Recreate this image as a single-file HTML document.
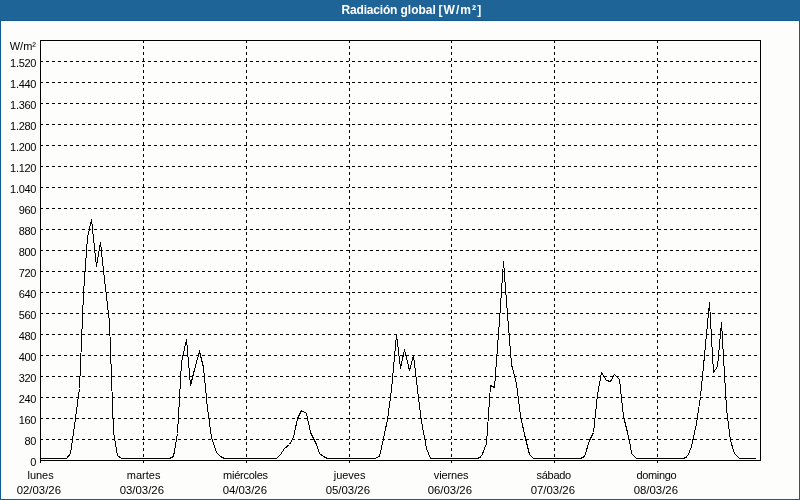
<!DOCTYPE html>
<html><head><meta charset="utf-8"><title>Radiación global</title>
<style>
html,body{margin:0;padding:0;background:#fdfdfd;}
body{width:800px;height:500px;overflow:hidden;position:relative;font-family:"Liberation Sans","DejaVu Sans",sans-serif;}
#bar{position:absolute;left:0;top:0;width:800px;height:20px;background:#1f6497;}
#frame{position:absolute;left:0;top:20px;width:798px;height:478px;border:1px solid #0f5b92;background:#fdfefc;}
#title{position:absolute;left:341.6px;top:0;width:300px;height:20px;line-height:20px;text-align:left;white-space:nowrap;color:#fff;font-weight:bold;font-size:12px;}
svg{position:absolute;left:0;top:0;}
svg text{font-family:"Liberation Sans","DejaVu Sans",sans-serif;font-size:11px;fill:#000;}
</style></head><body>
<div id="bar"></div><div id="frame"></div>
<div id="title"><span id="tt"><span style="letter-spacing:-0.2px">Radiación</span> <span>global</span><span style="letter-spacing:-0.6px"> </span><span style="letter-spacing:1.05px">[W/m²]</span></span></div>
<svg width="800" height="500" viewBox="0 0 800 500">
<g stroke="#000" stroke-width="1" stroke-dasharray="3 3" shape-rendering="crispEdges"><line x1="40" x2="760" y1="439.5" y2="439.5"/><line x1="40" x2="760" y1="418.5" y2="418.5"/><line x1="40" x2="760" y1="397.5" y2="397.5"/><line x1="40" x2="760" y1="376.5" y2="376.5"/><line x1="40" x2="760" y1="355.5" y2="355.5"/><line x1="40" x2="760" y1="334.5" y2="334.5"/><line x1="40" x2="760" y1="313.5" y2="313.5"/><line x1="40" x2="760" y1="292.5" y2="292.5"/><line x1="40" x2="760" y1="271.5" y2="271.5"/><line x1="40" x2="760" y1="250.5" y2="250.5"/><line x1="40" x2="760" y1="229.5" y2="229.5"/><line x1="40" x2="760" y1="208.5" y2="208.5"/><line x1="40" x2="760" y1="187.5" y2="187.5"/><line x1="40" x2="760" y1="166.5" y2="166.5"/><line x1="40" x2="760" y1="145.5" y2="145.5"/><line x1="40" x2="760" y1="124.5" y2="124.5"/><line x1="40" x2="760" y1="103.5" y2="103.5"/><line x1="40" x2="760" y1="82.5" y2="82.5"/><line x1="40" x2="760" y1="61.5" y2="61.5"/><line x1="143.5" x2="143.5" y1="40" y2="460"/><line x1="246.5" x2="246.5" y1="40" y2="460"/><line x1="349.5" x2="349.5" y1="40" y2="460"/><line x1="451.5" x2="451.5" y1="40" y2="460"/><line x1="554.5" x2="554.5" y1="40" y2="460"/><line x1="657.5" x2="657.5" y1="40" y2="460"/></g>
<rect x="40.5" y="40.5" width="720" height="420" fill="none" stroke="#000" stroke-width="1" shape-rendering="crispEdges"/>
<g stroke="#000" stroke-width="1" shape-rendering="crispEdges"><line x1="40.5" x2="40.5" y1="461" y2="463"/><line x1="143.5" x2="143.5" y1="461" y2="463"/><line x1="246.5" x2="246.5" y1="461" y2="463"/><line x1="349.5" x2="349.5" y1="461" y2="463"/><line x1="451.5" x2="451.5" y1="461" y2="463"/><line x1="554.5" x2="554.5" y1="461" y2="463"/><line x1="657.5" x2="657.5" y1="461" y2="463"/></g>
<g><text x="36.1" y="466" text-anchor="end" style="letter-spacing:-0.3px">0</text><text x="36.1" y="445" text-anchor="end" style="letter-spacing:-0.3px">80</text><text x="36.1" y="424" text-anchor="end" style="letter-spacing:-0.3px">160</text><text x="36.1" y="403" text-anchor="end" style="letter-spacing:-0.3px">240</text><text x="36.1" y="382" text-anchor="end" style="letter-spacing:-0.3px">320</text><text x="36.1" y="361" text-anchor="end" style="letter-spacing:-0.3px">400</text><text x="36.1" y="340" text-anchor="end" style="letter-spacing:-0.3px">480</text><text x="36.1" y="319" text-anchor="end" style="letter-spacing:-0.3px">560</text><text x="36.1" y="298" text-anchor="end" style="letter-spacing:-0.3px">640</text><text x="36.1" y="277" text-anchor="end" style="letter-spacing:-0.3px">720</text><text x="36.1" y="256" text-anchor="end" style="letter-spacing:-0.3px">800</text><text x="36.1" y="235" text-anchor="end" style="letter-spacing:-0.3px">880</text><text x="36.1" y="214" text-anchor="end" style="letter-spacing:-0.3px">960</text><text x="36.1" y="193" text-anchor="end" style="letter-spacing:-0.3px">1.040</text><text x="36.1" y="172" text-anchor="end" style="letter-spacing:-0.3px">1.120</text><text x="36.1" y="151" text-anchor="end" style="letter-spacing:-0.3px">1.200</text><text x="36.1" y="130" text-anchor="end" style="letter-spacing:-0.3px">1.280</text><text x="36.1" y="109" text-anchor="end" style="letter-spacing:-0.3px">1.360</text><text x="36.1" y="88" text-anchor="end" style="letter-spacing:-0.3px">1.440</text><text x="36.1" y="67" text-anchor="end" style="letter-spacing:-0.3px">1.520</text><text x="36" y="50" text-anchor="end">W/m²</text></g>
<g><text x="40.6" y="479" text-anchor="middle">lunes</text><text x="38.8" y="494" text-anchor="middle" style="font-size:11.4px">02/03/26</text><text x="143.6" y="479" text-anchor="middle">martes</text><text x="141.8" y="494" text-anchor="middle" style="font-size:11.4px">03/03/26</text><text x="245.47" y="479" text-anchor="middle" style="letter-spacing:-0.25px">miércoles</text><text x="244.8" y="494" text-anchor="middle" style="font-size:11.4px">04/03/26</text><text x="349.6" y="479" text-anchor="middle">jueves</text><text x="347.8" y="494" text-anchor="middle" style="font-size:11.4px">05/03/26</text><text x="451.08" y="479" text-anchor="middle" style="letter-spacing:-0.15px">viernes</text><text x="449.8" y="494" text-anchor="middle" style="font-size:11.4px">06/03/26</text><text x="553.7" y="479" text-anchor="middle" style="letter-spacing:-0.3px">sábado</text><text x="552.8" y="494" text-anchor="middle" style="font-size:11.4px">07/03/26</text><text x="656.38" y="479" text-anchor="middle" style="letter-spacing:-0.35px">domingo</text><text x="655.8" y="494" text-anchor="middle" style="font-size:11.4px">08/03/26</text></g>
<polyline fill="none" stroke="#000" stroke-width="1" stroke-linecap="square" stroke-linejoin="miter" shape-rendering="crispEdges" points="40.5,458.5 44.5,458.5 49.5,458.5 53.5,458.5 57.5,458.5 61.5,458.5 66.5,458.5 70.5,453.5 74.5,425.5 79.5,388.5 83.5,293.5 87.5,237.5 91.5,219.5 96.5,266.5 100.5,242.5 104.5,279.5 109.5,322.5 113.5,432.5 117.5,455.5 121.5,458.5 126.5,458.5 130.5,458.5 134.5,458.5 139.5,458.5 143.5,458.5 147.5,458.5 151.5,458.5 156.5,458.5 160.5,458.5 164.5,458.5 169.5,458.5 173.5,456.5 177.5,433.5 181.5,362.5 186.5,339.5 190.5,385.5 194.5,369.5 199.5,351.5 203.5,367.5 207.5,408.5 211.5,437.5 216.5,452.5 220.5,456.5 224.5,458.5 229.5,458.5 233.5,458.5 237.5,458.5 241.5,458.5 246.5,458.5 250.5,458.5 254.5,458.5 259.5,458.5 263.5,458.5 267.5,458.5 271.5,458.5 276.5,458.5 280.5,454.5 284.5,448.5 289.5,444.5 293.5,437.5 297.5,418.5 301.5,410.5 306.5,413.5 310.5,432.5 314.5,440.5 316.5,444.5 319.5,453.5 323.5,456.5 327.5,458.5 331.5,458.5 336.5,458.5 340.5,458.5 344.5,458.5 349.5,458.5 353.5,458.5 357.5,458.5 361.5,458.5 366.5,458.5 370.5,458.5 374.5,458.5 379.5,456.5 383.5,438.5 387.5,419.5 391.5,389.5 396.5,334.5 400.5,368.5 404.5,349.5 409.5,370.5 413.5,355.5 417.5,389.5 421.5,421.5 426.5,448.5 430.5,458.5 434.5,458.5 439.5,458.5 443.5,458.5 447.5,458.5 451.5,458.5 456.5,458.5 460.5,458.5 464.5,458.5 469.5,458.5 473.5,458.5 477.5,458.5 481.5,456.5 486.5,443.5 490.5,385.5 494.5,387.5 499.5,320.5 503.5,261.5 507.5,314.5 511.5,364.5 516.5,383.5 520.5,415.5 524.5,434.5 529.5,454.5 533.5,458.5 537.5,458.5 541.5,458.5 546.5,458.5 550.5,458.5 554.5,458.5 559.5,458.5 563.5,458.5 567.5,458.5 571.5,458.5 576.5,458.5 580.5,458.5 584.5,456.5 589.5,440.5 593.5,432.5 597.5,394.5 601.5,372.5 606.5,380.5 610.5,381.5 614.5,374.5 619.5,379.5 623.5,416.5 627.5,432.5 629.5,440.5 631.5,453.5 636.5,458.5 640.5,458.5 644.5,458.5 649.5,458.5 653.5,458.5 657.5,458.5 661.5,458.5 666.5,458.5 670.5,458.5 674.5,458.5 679.5,458.5 683.5,458.5 687.5,456.5 691.5,446.5 696.5,423.5 700.5,396.5 704.5,355.5 709.5,302.5 713.5,372.5 717.5,366.5 721.5,322.5 726.5,408.5 730.5,440.5 734.5,453.5 739.5,458.5 743.5,458.5 747.5,458.5 751.5,458.5 755.0,458.5"/>
</svg>
</body></html>
